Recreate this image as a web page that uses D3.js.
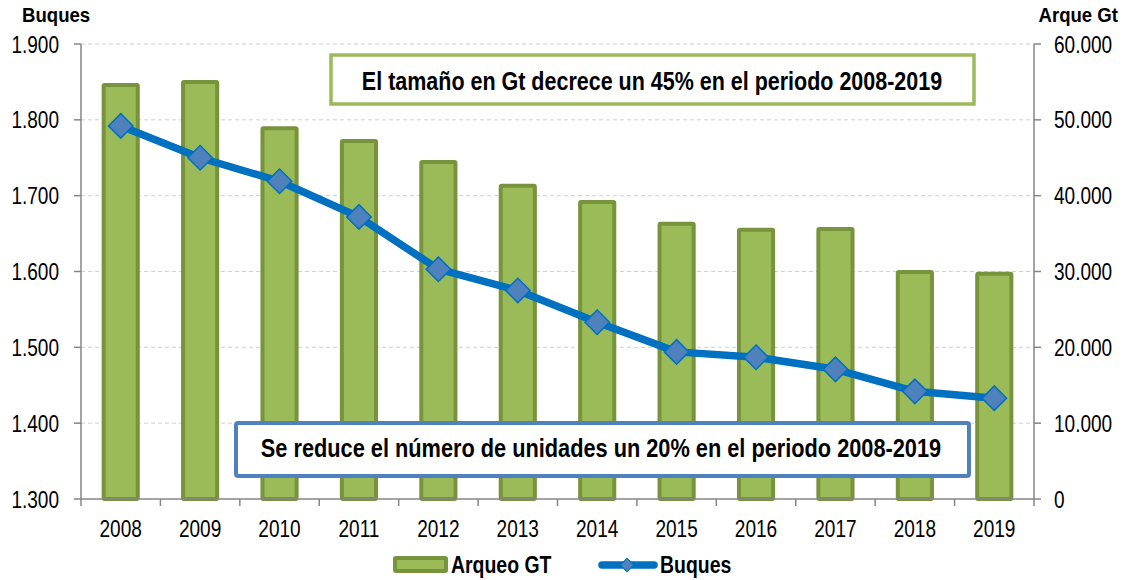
<!DOCTYPE html>
<html>
<head>
<meta charset="utf-8">
<script src="https://cdn.jsdelivr.net/npm/d3@7"></script>
<style>
    body { margin: 0; background: #fff; }
    text { font-family: "Liberation Sans", Arial, sans-serif; fill: #000; }
    .tick--label { font-size: 23.5px; }
    .axis--title { font-size: 20px; font-weight: bold; }
    .legend--label { font-size: 24px; font-weight: bold; }
    .note { font-size: 25px; font-weight: bold; }
</style>
</head>
<body>
<div id="chart"></div>
<script>
const years = ["2008", "2009", "2010", "2011", "2012", "2013", "2014", "2015", "2016", "2017", "2018", "2019"];
const arqueoGT = [54600, 55000, 48900, 47200, 44450, 41300, 39150, 36300, 35500, 35600, 29950, 29700];
const buques = [1792, 1750, 1719, 1672, 1603, 1575, 1533, 1494, 1487, 1471, 1442, 1433];
const leftTicks = [1300, 1400, 1500, 1600, 1700, 1800, 1900];
const rightTicks = [0, 10000, 20000, 30000, 40000, 50000, 60000];

const width = 1126;
const height = 580;
const margin = {top: 44, left: 81, right: 92, bottom: 81};

// numbers in Spanish style: 60.000 / 1.900
const fmt = d3.formatLocale({decimal: ",", thousands: ".", grouping: [3], currency: ["", ""]}).format(",");

const svg = d3.select("#chart")
    .append("svg")
    .attr("width", width)
    .attr("height", height);

// condensed text (narrow look of the original)
function label(parent, x, y, str, cls, anchor, sx) {
    return parent.append("text")
        .attr("class", cls)
        .attr("transform", `translate(${x},${y}) scale(${sx},1)`)
        .attr("text-anchor", anchor)
        .text(str);
}

const xScale = d3.scaleBand()
    .domain(years)
    .range([margin.left, width - margin.right])
    .paddingInner(0.57)
    .paddingOuter(0.285);

const yLeft = d3.scaleLinear()
    .domain([1300, 1900])
    .range([height - margin.bottom, margin.top]);

const yRight = d3.scaleLinear()
    .domain([0, 60000])
    .range([height - margin.bottom, margin.top]);

// gridlines
svg.append("g")
    .selectAll("line")
    .data(leftTicks.slice(1))
    .join("line")
    .attr("x1", margin.left)
    .attr("x2", width - margin.right)
    .attr("y1", d => yLeft(d))
    .attr("y2", d => yLeft(d))
    .attr("stroke", "#d0d0d0")
    .attr("stroke-dasharray", "4,3");

// bars
svg.append("g")
    .selectAll("rect")
    .data(years)
    .join("rect")
    .attr("x", d => xScale(d))
    .attr("y", (d, i) => yRight(arqueoGT[i]))
    .attr("width", xScale.bandwidth())
    .attr("height", (d, i) => yRight(0) - yRight(arqueoGT[i]))
    .attr("fill", "#9bbb59")
    .attr("stroke", "#77933c")
    .attr("stroke-width", 4)
    .attr("rx", 1);

// axes
const axisColor = "#868686";
const step = xScale.step();
const xLeft = margin.left;
const xRight = width - margin.right;
const yBase = yLeft(1300);

svg.append("line")
    .attr("x1", xLeft).attr("x2", xRight)
    .attr("y1", yBase).attr("y2", yBase)
    .attr("stroke", axisColor).attr("stroke-width", 1.5);

svg.append("g")
    .selectAll("line")
    .data(d3.range(years.length + 1))
    .join("line")
    .attr("x1", i => xLeft + step * i)
    .attr("x2", i => xLeft + step * i)
    .attr("y1", yBase)
    .attr("y2", yBase + 7)
    .attr("stroke", axisColor).attr("stroke-width", 1.5);

const xLabels = svg.append("g");
years.forEach(d => {
    label(xLabels, xScale(d) + xScale.bandwidth() / 2, yBase + 38, d, "tick--label", "middle", 0.81);
});

svg.append("line")
    .attr("x1", xLeft).attr("x2", xLeft)
    .attr("y1", margin.top).attr("y2", yBase)
    .attr("stroke", axisColor).attr("stroke-width", 1.5);

const leftAxis = svg.append("g");
leftTicks.forEach(d => {
    leftAxis.append("line")
        .attr("x1", xLeft - 7).attr("x2", xLeft)
        .attr("y1", yLeft(d)).attr("y2", yLeft(d))
        .attr("stroke", axisColor).attr("stroke-width", 1.5);
    label(leftAxis, xLeft - 22, yLeft(d) + 8.5, fmt(d), "tick--label", "end", 0.81);
});

svg.append("line")
    .attr("x1", xRight).attr("x2", xRight)
    .attr("y1", margin.top).attr("y2", yBase)
    .attr("stroke", axisColor).attr("stroke-width", 1.5);

const rightAxis = svg.append("g");
rightTicks.forEach(d => {
    rightAxis.append("line")
        .attr("x1", xRight).attr("x2", xRight + 7)
        .attr("y1", yRight(d)).attr("y2", yRight(d))
        .attr("stroke", axisColor).attr("stroke-width", 1.5);
    label(rightAxis, xRight + 20, yRight(d) + 8.5, fmt(d), "tick--label", "start", 0.81);
});

label(svg, 22, 22, "Buques", "axis--title", "start", 0.93);
label(svg, 1118, 22, "Arque Gt", "axis--title", "end", 0.93);

// line
const line = d3.line()
    .x((d, i) => xScale(years[i]) + xScale.bandwidth() / 2)
    .y(d => yLeft(d));

svg.append("path")
    .datum(buques)
    .attr("d", line)
    .attr("fill", "none")
    .attr("stroke", "#0070c0")
    .attr("stroke-width", 7.5)
    .attr("stroke-linejoin", "round");

const diamond = d3.symbol().type(d3.symbolSquare).size(300);

svg.append("g")
    .selectAll("path")
    .data(buques)
    .join("path")
    .attr("d", diamond)
    .attr("transform", (d, i) => `translate(${xScale(years[i]) + xScale.bandwidth() / 2},${yLeft(d)}) rotate(45)`)
    .attr("fill", "#4f81bd")
    .attr("stroke", "#0070c0")
    .attr("stroke-width", 1.5);

// annotation boxes
svg.append("rect")
    .attr("x", 331).attr("y", 55)
    .attr("width", 643).attr("height", 49)
    .attr("fill", "#fff")
    .attr("stroke", "#9bbb59")
    .attr("stroke-width", 3.5);

label(svg, 652, 90, "El tamaño en Gt decrece un 45% en el periodo 2008-2019", "note", "middle", 0.86);

svg.append("rect")
    .attr("x", 236).attr("y", 423)
    .attr("width", 733).attr("height", 53)
    .attr("fill", "#fff")
    .attr("stroke", "#4f81bd")
    .attr("stroke-width", 4)
    .attr("rx", 2);

label(svg, 601, 457, "Se reduce el número de unidades un 20% en el periodo 2008-2019", "note", "middle", 0.87);

// legend
const legend = svg.append("g");

legend.append("rect")
    .attr("x", 395).attr("y", 558)
    .attr("width", 51).attr("height", 13)
    .attr("fill", "#9bbb59")
    .attr("stroke", "#77933c")
    .attr("stroke-width", 4)
    .attr("rx", 1);

label(legend, 451, 573, "Arqueo GT", "legend--label", "start", 0.81);

legend.append("line")
    .attr("x1", 602).attr("x2", 654)
    .attr("y1", 565).attr("y2", 565)
    .attr("stroke", "#0070c0")
    .attr("stroke-width", 7.5)
    .attr("stroke-linecap", "round");

legend.append("path")
    .attr("d", d3.symbol().type(d3.symbolSquare).size(90))
    .attr("transform", "translate(627,565) rotate(45)")
    .attr("fill", "#4f81bd")
    .attr("stroke", "#0070c0")
    .attr("stroke-width", 1);

label(legend, 660, 573, "Buques", "legend--label", "start", 0.81);
</script>
</body>
</html>
